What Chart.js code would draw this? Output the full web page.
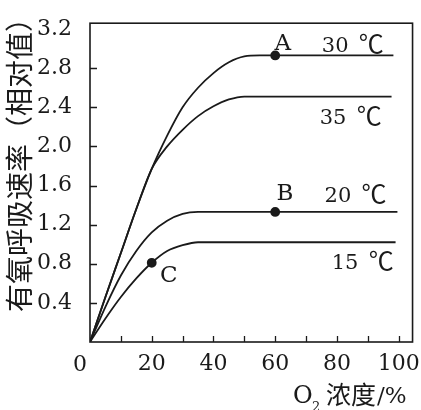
<!DOCTYPE html>
<html>
<head>
<meta charset="utf-8">
<script src="https://cdn.jsdelivr.net/npm/chart.js@4.4.1/dist/chart.umd.min.js"></script>
<style>
html, body { margin: 0; padding: 0; background: #fff; }
#wrap { width: 421px; height: 410px; }
</style>
</head>
<body>
<div id="wrap"><canvas id="chart"></canvas></div>
<script>
// O2 concentration (%) where the curves were read
var O2 = [0, 5, 10, 15, 20, 25, 30, 35, 40, 45, 50, 55, 60, 80];

// aerobic respiration rate (relative value) per temperature
var RATE_30 = [0, 0.46, 0.91, 1.36, 1.77, 2.11, 2.40, 2.60, 2.75, 2.86, 2.92, 2.93, 2.93, 2.93];
var RATE_35 = [0, 0.46, 0.91, 1.36, 1.77, 2.00, 2.17, 2.31, 2.41, 2.48, 2.51, 2.51, 2.51, 2.51];
var RATE_20 = [0, 0.36, 0.68, 0.93, 1.12, 1.24, 1.31, 1.33, 1.33, 1.33, 1.33, 1.33, 1.33, 1.33];
var RATE_15 = [0, 0.24, 0.46, 0.65, 0.81, 0.93, 0.99, 1.02, 1.02, 1.02, 1.02, 1.02, 1.02, 1.02];

// O2 value where each curve stops on the right
var LINE_END = [98.3, 97.7, 99.6, 99];

var TEMPS = ['30', '35', '20', '15'];
var UNIT = '℃';

// marked points: letter, series index, O2 value
var MARKERS = [['A', 0, 60], ['B', 2, 60], ['C', 3, 20]];

var Y_TICKS = [0.4, 0.8, 1.2, 1.6, 2.0, 2.4, 2.8, 3.2];
var X_TICKS = [20, 40, 60, 80, 100];

var INK = '#1a1a1a';
var SERIF = '"DejaVu Serif", "Liberation Serif", serif';
var CJK = '"Noto Sans CJK SC", sans-serif';

var RATES = [RATE_30, RATE_35, RATE_20, RATE_15];

/**
 * Text placed next to the curves, in data units (left edge, baseline).
 */
var LETTER_NOTES = [
    {text: 'A', x: 59.8, y: 2.99},
    {text: 'B', x: 60.4, y: 1.45},
    {text: 'C', x: 22.7, y: 0.61}
];
var TEMP_NOTES = [
    {x: 75.1, y: 2.97},
    {x: 74.4, y: 2.23},
    {x: 76.0, y: 1.43},
    {x: 78.3, y: 0.75}
];

function buildPoints(i) {
    var values = RATES[i];
    var pts = [];
    for (var j = 0; j < O2.length; j++) {
        pts.push({x: O2[j], y: values[j]});
    }
    pts.push({x: LINE_END[i], y: values[values.length - 1]});
    return pts;
}

function isMarked(i, x) {
    for (var k = 0; k < MARKERS.length; k++) {
        if (MARKERS[k][1] === i && MARKERS[k][2] === x) return true;
    }
    return false;
}

function buildDatasets() {
    var sets = [];
    for (var i = 0; i < TEMPS.length; i++) {
        (function (i) {
            sets.push({
                label: TEMPS[i] + ' ' + UNIT,
                data: buildPoints(i),
                borderColor: INK,
                backgroundColor: INK,
                borderWidth: 1.8,
                cubicInterpolationMode: 'monotone',
                pointRadius: function (ctx) {
                    return isMarked(i, ctx.raw.x) ? 4 : 0;
                },
                pointHoverRadius: 0,
                fill: false
            });
        })(i);
    }
    return sets;
}

function fixedTicks(list) {
    return function (scale) {
        scale.ticks = list.map(function (v) { return {value: v}; });
    };
}

/**
 * Frame, inward tick marks, titles and curve notes.
 */
var decor = {
    id: 'decor',
    afterDraw: function (chart) {
        var ctx = chart.ctx;
        var a = chart.chartArea;
        var xs = chart.scales.x;
        var ys = chart.scales.y;
        var v, p, k, px, py;

        ctx.save();
        ctx.strokeStyle = INK;
        ctx.lineWidth = 1.6;
        ctx.strokeRect(a.left, a.top, a.right - a.left, a.bottom - a.top);

        ctx.beginPath();
        for (v = 10; v <= 100; v += 10) {
            p = Math.round(xs.getPixelForValue(v)) + 0.5;
            ctx.moveTo(p, a.bottom);
            ctx.lineTo(p, a.bottom - 6);
        }
        for (k = 0; k < Y_TICKS.length - 1; k++) {
            p = Math.round(ys.getPixelForValue(Y_TICKS[k])) + 0.5;
            ctx.moveTo(a.left, p);
            ctx.lineTo(a.left + 7, p);
        }
        ctx.lineWidth = 1.3;
        ctx.stroke();

        ctx.fillStyle = INK;
        ctx.textBaseline = 'alphabetic';
        ctx.textAlign = 'left';
        ctx.font = '23px ' + SERIF;
        for (k = 0; k < LETTER_NOTES.length; k++) {
            var note = LETTER_NOTES[k];
            ctx.fillText(note.text, xs.getPixelForValue(note.x), ys.getPixelForValue(note.y));
        }
        for (k = 0; k < TEMP_NOTES.length; k++) {
            px = xs.getPixelForValue(TEMP_NOTES[k].x);
            py = ys.getPixelForValue(TEMP_NOTES[k].y);
            ctx.font = '21px ' + SERIF;
            ctx.fillText(TEMPS[k], px, py);
            ctx.font = '25px ' + CJK;
            ctx.fillText(UNIT, px + 37, py + 1);
        }

        // shared origin label
        ctx.font = '22px ' + SERIF;
        ctx.textAlign = 'center';
        ctx.fillText('0', xs.getPixelForValue(0) - 10, a.bottom + 29);

        // x title: O2 浓度/%
        ctx.textAlign = 'left';
        var x0 = 293, base = 403;
        ctx.font = '24px ' + SERIF;
        ctx.fillText('O', x0, base);
        ctx.font = '13px ' + SERIF;
        ctx.fillText('2', x0 + 19, base + 8);
        ctx.font = '25px ' + CJK;
        ctx.fillText('浓度', x0 + 33, base + 1);
        ctx.font = '23px ' + SERIF;
        ctx.fillText('/%', x0 + 84, base);

        // y title
        ctx.translate(19, 158);
        ctx.rotate(-Math.PI / 2);
        ctx.textAlign = 'center';
        ctx.textBaseline = 'middle';
        ctx.font = '28px ' + CJK;
        ctx.fillText('有氧呼吸速率（相对值）', 0, 0);
        ctx.restore();
    }
};

function createChart() {
    return new Chart(document.getElementById('chart').getContext('2d'), {
        type: 'line',
        data: {datasets: buildDatasets()},
        options: {
            responsive: true,
            maintainAspectRatio: false,
            animation: false,
            events: [],
            layout: {padding: {top: 11, right: 8, left: 0, bottom: 0}},
            plugins: {
                legend: {display: false},
                tooltip: {enabled: false}
            },
            scales: {
                x: {
                    type: 'linear',
                    min: 0,
                    max: 104.5,
                    afterBuildTicks: fixedTicks(X_TICKS),
                    afterFit: function (scale) { scale.height = 68; },
                    grid: {display: false},
                    border: {display: false},
                    ticks: {
                        autoSkip: false,
                        maxRotation: 0,
                        padding: 1,
                        color: INK,
                        font: {family: SERIF, size: 22},
                        callback: function (value) { return String(value); }
                    }
                },
                y: {
                    type: 'linear',
                    min: 0,
                    max: 3.26,
                    afterBuildTicks: fixedTicks(Y_TICKS),
                    afterFit: function (scale) { scale.width = 90; },
                    grid: {display: false},
                    border: {display: false},
                    ticks: {
                        autoSkip: false,
                        padding: 10,
                        color: INK,
                        font: {family: SERIF, size: 22},
                        callback: function (value) { return value.toFixed(1); }
                    }
                }
            }
        },
        plugins: [decor]
    });
}

createChart();
</script>
</body>
</html>
